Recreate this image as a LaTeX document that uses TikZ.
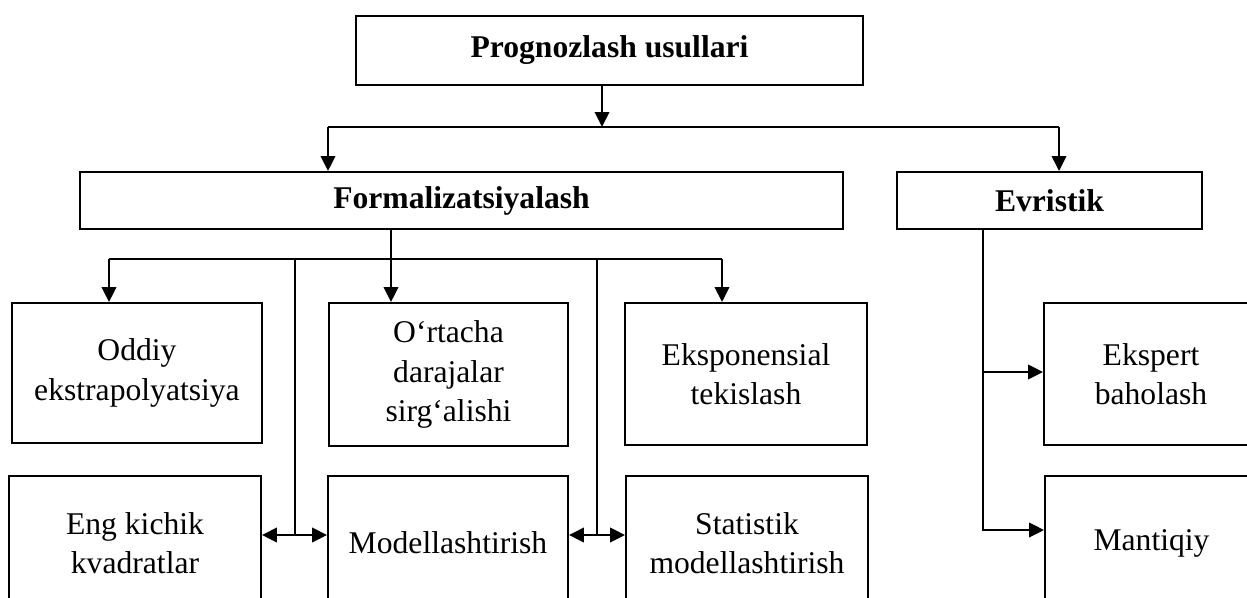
\documentclass[tikz,border=0pt]{standalone}
\usepackage{fontspec}
\setmainfont{Liberation Serif}
\usetikzlibrary{arrows.meta}

\begin{document}
\begin{tikzpicture}[x=0.02cm, y=-0.02cm,
    box/.style={draw, line width=1.1pt, align=center, inner sep=2pt, font=\fontsize{18}{22.5}\selectfont},
    head/.style={box, font=\fontsize{18}{22.5}\selectfont\bfseries},
    sz/.style 2 args={minimum width=#1*0.02cm, minimum height=#2*0.02cm},
    link/.style={line width=1.1pt},
    arr/.style={link, -{Triangle[length=0.3cm, width=0.29cm]}},
    darr/.style={link, {Triangle[length=0.3cm, width=0.29cm]}-{Triangle[length=0.3cm, width=0.29cm]}}]
    \useasboundingbox (0,0) rectangle (1247,598);
    \clip (0,0) rectangle (1247,598);

    % Headings
    \node[head, sz={507}{69}] (top) at (609.5,50.5) {Prognozlash usullari};
    \node[head, sz={763}{57}] (form) at (461.5,200.5) {Formalizatsiyalash};
    \node[head, sz={305}{57}] (evr) at (1049.5,200.5) {Evristik};

    % Upper row
    \node[box, sz={250}{140}] (oddiy) at (137,373) {Oddiy\\ekstrapolyatsiya};
    \node[box, sz={239}{143}] (ortacha) at (448.5,374.5) {O‘rtacha\\darajalar\\sirg‘alishi};
    \node[box, sz={242}{142}] (eksp) at (746,374) {Eksponensial\\tekislash};
    \node[box, sz={214}{142}] (ekspert) at (1151,374) {Ekspert\\baholash};

    % Lower row
    \node[box, sz={252}{134}] (eng) at (135,543) {Eng kichik\\kvadratlar};
    \node[box, sz={240}{134}] (model) at (448,543) {Modellashtirish};
    \node[box, sz={242}{134}] (stat) at (747,543) {Statistik\\modellashtirish};
    \node[box, sz={213}{134}] (mant) at (1151.5,543) {Mantiqiy};

    % Top level
    \coordinate (s0) at (602,127);
    \coordinate (fl) at (328,127);
    \coordinate (fr) at (1059,127);
    \draw[arr] (top.south -| s0) -- (s0);
    \draw[link] (fl) -- (fr);
    \draw[arr] (fl) -- (fl |- form.north);
    \draw[arr] (fr) -- (fr |- evr.north);

    % Formalizatsiyalash branches
    \coordinate (s1) at (391,259);
    \coordinate (ol) at (109,259);
    \coordinate (or) at (722,259);
    \coordinate (v1) at (295,259);
    \coordinate (v2) at (597,259);
    \coordinate (m1) at (295,535);
    \coordinate (m2) at (597,535);
    \draw[arr] (form.south -| s1) -- (s1 |- ortacha.north);
    \draw[link] (ol) -- (or);
    \draw[arr] (ol) -- (ol |- oddiy.north);
    \draw[arr] (or) -- (or |- eksp.north);
    \draw[link] (v1) -- (m1);
    \draw[link] (v2) -- (m2);
    \draw[darr] (eng.east |- m1) -- (model.west |- m1);
    \draw[darr] (model.east |- m2) -- (stat.west |- m2);

    % Evristik branches
    \coordinate (e1) at (983,372);
    \coordinate (e2) at (983,530);
    \draw[arr] (evr.south -| e1) -- (e2) -- (mant.west |- e2);
    \draw[arr] (e1) -- (ekspert.west |- e1);
\end{tikzpicture}
\end{document}
